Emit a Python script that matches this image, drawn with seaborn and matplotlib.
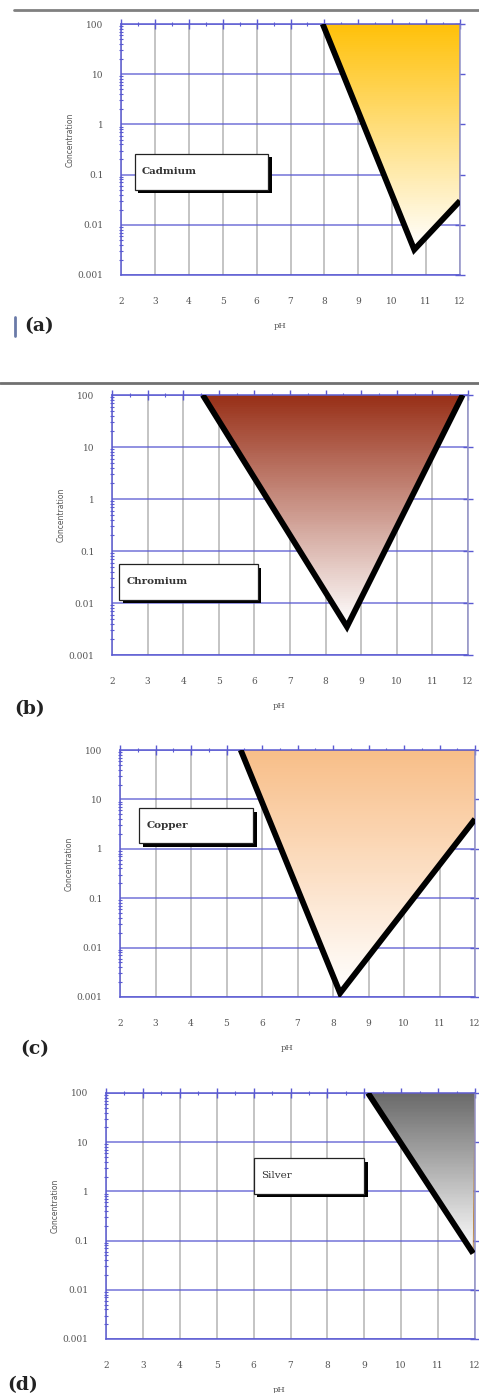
import numpy as np
import pandas as pd
import matplotlib.pyplot as plt
import seaborn as sns
from matplotlib.colors import LinearSegmentedColormap
from matplotlib.patches import Polygon, Rectangle
from matplotlib.lines import Line2D
import matplotlib.patheffects as pe

sns.set_style("white")

ph_ticks = list(range(2, 13))
conc_ticks = [0.001, 0.01, 0.1, 1, 10, 100]
conc_labels = ["0.001", "0.01", "0.1", "1", "10", "100"]

metals = ["Cadmium", "Chromium", "Copper", "Silver"]
tags = ["(a)", "(b)", "(c)", "(d)"]

# black boundary of each precipitation zone (pH, concentration)
cd_ph = [7.95, 10.65, 12.0]
cd_conc = [100, 0.0032, 0.03]
cr_ph = [4.55, 8.6, 11.85]
cr_conc = [100, 0.0035, 100]
cu_ph = [5.4, 8.2, 12.0]
cu_conc = [100, 0.0012, 4.0]
ag_ph = [9.1, 11.95]
ag_conc = [100, 0.055]

boundaries = [(cd_ph, cd_conc), (cr_ph, cr_conc), (cu_ph, cu_conc), (ag_ph, ag_conc)]
top_colors = ["#FFC10A", "#983018", "#F8BE88", "#6A6A6A"]

# label box (pH left, pH right, conc low, conc high)
boxes = [(2.41, 6.34, 0.05, 0.26),
         (2.2, 6.1, 0.0115, 0.056),
         (2.54, 5.75, 1.3, 6.6),
         (6.0, 9.0, 0.9, 4.7)]

# layout in pixels: left, right, top, bottom of each axes
W, H = 479, 1393
axes_px = [(121, 460, 24, 275),
           (112, 468, 395, 655),
           (120, 475, 750, 997),
           (106, 475, 1093, 1339)]
tag_px = [(24, 326), (14, 709), (20, 1049), (7, 1385)]

fig = plt.figure(figsize=(W / 100, H / 100), dpi=100)

blue = "#5A5AD2"
grid_gray = "#C4C4C4"

for i, (metal, tag) in enumerate(zip(metals, tags)):
    l, r, t, b = axes_px[i]
    ax = fig.add_axes([l / W, 1 - b / H, (r - l) / W, (b - t) / H])
    ax.set_yscale("log")
    ax.set_xlim(2, 12)
    ax.set_ylim(0.001, 100)

    # grid
    for x in ph_ticks:
        ax.axvline(x, color=grid_gray, lw=1.4, zorder=0)
    for y in conc_ticks:
        ax.axhline(y, color=blue, lw=1.1, alpha=0.85, zorder=0.5)

    ph, conc = boundaries[i]
    poly_x = list(ph)
    poly_y = list(conc)
    if poly_x[-1] >= 11.95:
        poly_x += [12.0]
        poly_y += [100]
    poly_x += [ph[0]]
    poly_y += [100]
    patch = Polygon(np.column_stack([poly_x, poly_y]), closed=True,
                    transform=ax.transData, facecolor="none",
                    edgecolor="#B07830", lw=0.6, zorder=2)
    ax.add_patch(patch)

    # vertical gradient fill, white at bottom of the zone
    lo = np.log10(min(conc))
    y_edges = np.logspace(lo, 2, 120)
    c = np.linspace(0, 1, 119).reshape(-1, 1)
    cmap = LinearSegmentedColormap.from_list(metal, ["#FFFFFF", top_colors[i]])
    mesh = ax.pcolormesh([2, 12], y_edges, c, cmap=cmap, shading="flat",
                         zorder=1.5, rasterized=True)
    mesh.set_clip_path(patch)

    df = pd.DataFrame({"pH": ph, "conc": conc})
    sns.lineplot(data=df, x="pH", y="conc", sort=False, estimator=None,
                 color="black", lw=4.2, ax=ax, zorder=3,
                 solid_joinstyle="miter", solid_capstyle="butt")

    # label box with drop shadow
    x0, x1, y0, y1 = boxes[i]
    rect = Rectangle((x0, y0), x1 - x0, y1 - y0, facecolor="white",
                     edgecolor="#222222", lw=0.9, zorder=4,
                     path_effects=[pe.SimplePatchShadow(offset=(2.5, -2.5),
                                                        shadow_rgbFace="black",
                                                        alpha=1.0),
                                   pe.Normal()])
    ax.add_patch(rect)
    ax.text(x0 + 0.2, np.sqrt(y0 * y1), metal, fontsize=7.5,
            fontweight="bold" if metal != "Silver" else "normal",
            family="serif", color="#333333", va="center", ha="left", zorder=5)

    # axes styling
    ax.set_xticks(ph_ticks)
    ax.set_xticklabels([str(v) for v in ph_ticks])
    ax.set_xticks(np.arange(2.5, 12, 1), minor=True)
    ax.set_yticks(conc_ticks)
    ax.set_yticklabels(conc_labels)
    ax.tick_params(which="major", direction="inout", length=7, width=1.0,
                   color=blue, top=True, right=True, labelsize=6.5,
                   labelcolor="#555555", pad=9)
    ax.tick_params(which="minor", direction="inout", length=2.5, width=0.8,
                   color=blue, top=True, left=True, right=False)
    ax.tick_params(axis="x", which="major", pad=12)
    for lab in ax.get_xticklabels() + ax.get_yticklabels():
        lab.set_family("serif")
    for s in ax.spines.values():
        s.set_color(blue)
        s.set_linewidth(1.1)
        s.set_visible(True)
    ax.spines["right"].set_color("#9090C8")

    ax.set_xlabel("pH", fontsize=6, family="serif", color="#555555")
    ax.set_ylabel("Concentration", fontsize=5.5, color="#555555")
    ax.xaxis.set_label_coords(0.47, -47 / (b - t))
    ax.yaxis.set_label_coords(-46 / (r - l), 0.54)

    fig.text(tag_px[i][0] / W, 1 - tag_px[i][1] / H, tag, fontsize=13.5,
             fontweight="bold", family="serif", color="#222222",
             va="center", ha="left")

# page rules and margin mark from the scanned document
fig.add_artist(Line2D([14 / W, 1], [1 - 10 / H, 1 - 10 / H],
                      transform=fig.transFigure, color="#808080", lw=2))
fig.add_artist(Line2D([0, 1], [1 - 383 / H, 1 - 383 / H],
                      transform=fig.transFigure, color="#707070", lw=2))
fig.add_artist(Line2D([15 / W, 15 / W], [1 - 317 / H, 1 - 336 / H],
                      transform=fig.transFigure, color="#6A7AA8", lw=2))

fig.savefig("out.png", dpi=100)
